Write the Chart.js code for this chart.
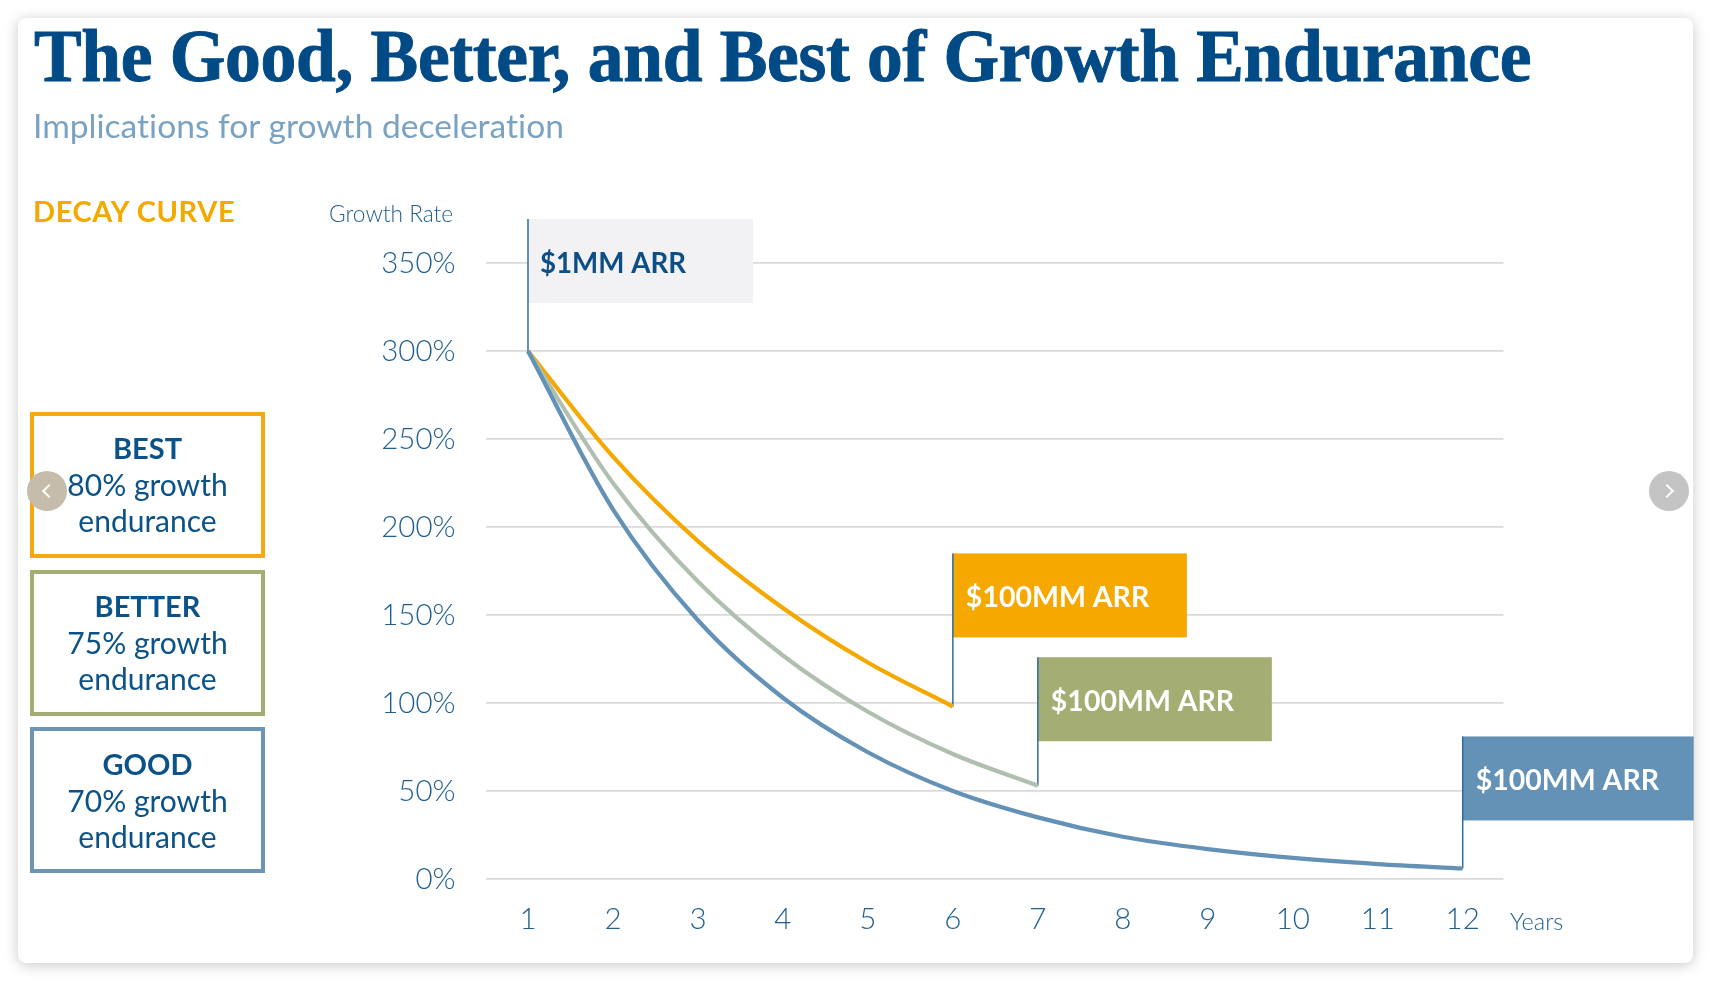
<!DOCTYPE html>
<html><head><meta charset="utf-8">
<script src="https://cdn.jsdelivr.net/npm/chart.js@4"></script>
<style>
html,body{margin:0;padding:0;background:#fff;width:1711px;height:981px;overflow:hidden}
#card{position:absolute;left:18px;top:18px;width:1675px;height:945px;background:#fff;border-radius:8px;box-shadow:0 2px 14px rgba(0,0,0,.22)}
canvas{position:absolute;left:0;top:0}
.t{position:absolute;white-space:nowrap;font-family:Lato,sans-serif;font-variant-ligatures:none}
#title{left:34px;top:16px;font:700 74px/80px "Liberation Serif",serif;color:#004a86;letter-spacing:-.3px;transform:scaleX(.9655);transform-origin:0 0;-webkit-text-stroke:1px #004a86}
#sub{left:33px;top:103px;font-weight:400;font-size:33.6px;line-height:44px;color:#7aa3c3}
#decay{left:33px;top:192px;font-weight:700;font-size:29px;line-height:38px;letter-spacing:.6px;color:#f2a900}
#gr{left:329px;top:199px;font-size:22.7px;line-height:30px;font-weight:300;color:#1f5f91}
#yr{left:1510px;top:906px;font-size:23.5px;line-height:30px;font-weight:300;color:#1f5f91}
.lg{position:absolute;left:30px;width:227px;height:138px;border:4px solid;text-align:center;font-family:Lato,sans-serif;color:#0b5288;font-size:30px;line-height:36.5px}
.lg b{display:block;font-weight:700;font-size:29px;line-height:35.5px;margin-top:15px}
.nav{position:absolute;width:40px;height:40px;border-radius:50%;top:471px}
.nav i{position:absolute;width:8px;height:8px;border-top:2px solid #fff;border-left:2px solid #fff;top:15px}
</style></head><body>
<div id="card"></div>
<canvas id="c" width="1711" height="981"></canvas>
<div class="t" id="title">The Good, Better, and Best of Growth Endurance</div>
<div class="t" id="sub">Implications for growth deceleration</div>
<div class="t" id="decay">DECAY CURVE</div>
<div class="t" id="gr">Growth Rate</div>
<div class="t" id="yr">Years</div>
<div class="lg" style="top:412px;border-color:#f4a90f"><b style="margin-top:14px">BEST</b>80% growth<br>endurance</div>
<div class="lg" style="top:570px;border-color:#a4ae73"><b style="margin-top:14px">BETTER</b>75% growth<br>endurance</div>
<div class="lg" style="top:727px;border-color:#6a95b6"><b>GOOD</b>70% growth<br>endurance</div>
<div class="nav" style="left:27px;background:#c5bcab"><i style="left:17px;transform:rotate(-45deg)"></i></div>
<div class="nav" style="left:1649px;background:#c4c4c4"><i style="left:13px;transform:rotate(135deg)"></i></div>
<script>
const years=[1,2,3,4,5,6,7,8,9,10,11,12];
const yTicks=[0,50,100,150,200,250,300,350];
const best=[300,240,192,154,123,98];
const better=[300,225,169,127,95,71,53];
const good=[300,210,147,103,72,50,35,24,17,12,8.5,6];
const tagYears=[1,6,7,12];
const tagTops=[375,185,126,81];
const tagBottoms=[300,98,53,6];
const tagLabels=["$1MM ARR","$100MM ARR","$100MM ARR","$100MM ARR"];

const pts=a=>a.map((v,i)=>({x:years[i],y:v}));
const curve=(label,d,col)=>({label,data:pts(d),borderColor:col,borderWidth:4.2,pointRadius:0,cubicInterpolationMode:'monotone',fill:false});
const stems=tagYears.map((yr,i)=>({label:'stem'+i,data:[{x:yr,y:tagBottoms[i]},{x:yr,y:tagTops[i]}],borderColor:'#2f6c9c',borderWidth:1.5,pointRadius:0,clip:false}));

const tagStyle=[{w:225,bg:'#f2f1f3',fg:'#0b4f86',fs:27.7,dx:12,dy:45.5},{w:234,bg:'#f5a800',fg:'#fff',fs:28.5,dx:13,dy:44.5},{w:234,bg:'#a4ae73',fg:'#fff',fs:28.5,dx:13,dy:44.5},{w:231,bg:'#6491b6',fg:'#fff',fs:28.5,dx:13,dy:44.5}];
const tags={id:'tags',beforeDatasetsDraw(ch){
  const {ctx,scales:{x,y}}=ch;
  ctx.save();
  tagYears.forEach((yr,i)=>{
    const s=tagStyle[i],l=x.getPixelForValue(yr),t=y.getPixelForValue(tagTops[i]);
    ctx.fillStyle=s.bg;ctx.fillRect(l,t,s.w,84);
    ctx.fillStyle=s.fg;ctx.font='700 '+s.fs+'px Lato,sans-serif';ctx.textBaseline='middle';ctx.textAlign='left';
    ctx.fillText(tagLabels[i],l+s.dx,t+s.dy);
  });
  ctx.restore();
}};

new Chart(document.getElementById('c'),{
  type:'line',
  data:{datasets:[curve('Good',good,'#6491b6'),curve('Better',better,'#b0bfaf'),curve('Best',best,'#f5a800'),...stems]},
  plugins:[tags],
  options:{
    responsive:false,animation:false,devicePixelRatio:1,
    layout:{padding:{top:263,right:207.5,bottom:42,left:0}},
    plugins:{legend:{display:false},title:{display:false},tooltip:{enabled:false}},
    scales:{
      x:{type:'linear',min:0.5,max:12.48,afterBuildTicks(s){s.ticks=years.map(v=>({value:v}));},
        grid:{display:false},border:{display:false},
        ticks:{autoSkip:false,maxRotation:0,padding:15,color:'#1f5f91',font:{family:'Lato',weight:'300',size:29.5},callback:v=>String(v)},
        afterFit(s){s.height=60;}},
      y:{min:0,max:350,afterBuildTicks(s){s.ticks=yTicks.map(v=>({value:v}));},
        grid:{color:'#dcd8dd',lineWidth:1.8,drawTicks:false},border:{display:false},
        ticks:{padding:30,color:'#1f5f91',font:{family:'Lato',weight:'300',size:29.5},callback:v=>v+'%'},
        afterFit(s){s.width=485.5;}}
    }
  }
});
</script>
</body></html>
